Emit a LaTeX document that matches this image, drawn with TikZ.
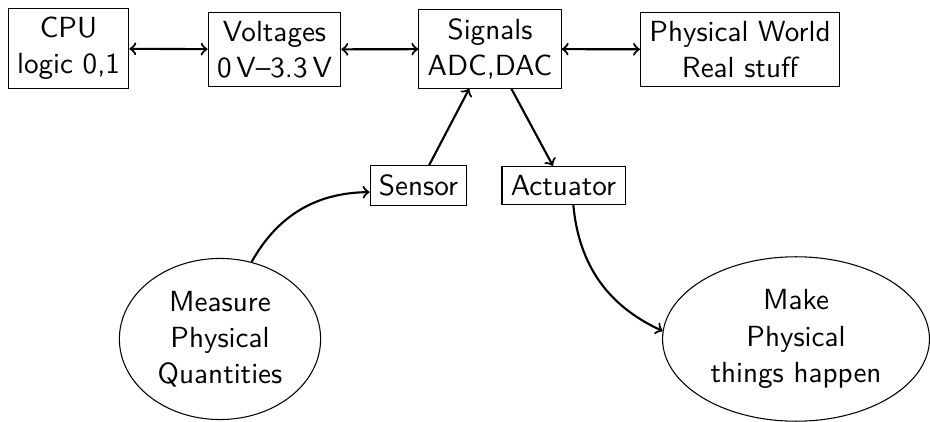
\documentclass[tikz,border=0pt]{standalone}
\usetikzlibrary{shapes.geometric}
\begin{document}
\begin{tikzpicture}[x=0.376pt, y=-0.376pt,
  every node/.style={font=\sffamily\fontsize{10.95}{13.6}\selectfont},
  box/.style={draw, align=center, line width=0.4pt},
  blob/.style={draw, ellipse, align=center, line width=0.4pt},
  link/.style={thick}]
\useasboundingbox (0,0) rectangle (930,422);

% top row: the processing chain
\node[box] (cpu)    at (68.5,48.5)  {CPU\\logic 0,1};
\node[box] (volt)   at (274.5,49.5) {Voltages\\0\,V--3.3\,V};
\node[box] (sig)    at (490,49)     {Signals\\ADC,DAC};
\node[box] (world)  at (740,49.5)   {Physical World\\Real stuff};

% transducers
\node[box] (sensor) at (418.5,185.5) {Sensor};
\node[box] (act)    at (563.5,185.5) {Actuator};

% physical ends
\node[blob] (meas) at (220,339) {Measure\\Physical\\Quantities};
\node[blob] (make) at (796,339) {Make\\Physical\\things happen};

\draw[link,<->] (cpu) -- (volt);
\draw[link,<->] (volt) -- (sig);
\draw[link,<->] (sig) -- (world);
\draw[link,->] (sensor) -- (sig);
\draw[link,->] (sig) -- (act);
\draw[link,->] (meas) to[bend left] (sensor);
\draw[link,->] (act) to[bend right] (make);
\end{tikzpicture}
\end{document}
